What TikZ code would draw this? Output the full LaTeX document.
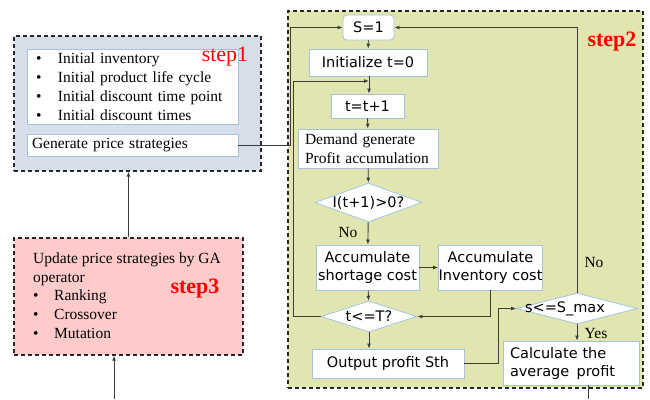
\documentclass[tikz,border=0pt]{standalone}
\usepackage{fontspec}
\setmainfont{Liberation Serif}
\newfontfamily\sansf{DejaVu Sans}
\usetikzlibrary{shapes.geometric,arrows.meta}

\definecolor{oneblue}{RGB}{214,223,233}
\definecolor{twogreen}{RGB}{225,230,176}
\definecolor{threepink}{RGB}{255,202,202}
\definecolor{boxedge}{RGB}{165,195,225}
\definecolor{steplabel}{RGB}{255,0,0}
\definecolor{linegray}{RGB}{60,60,60}

\begin{document}
\begin{tikzpicture}[x=1pt,y=-1pt,
stepframe/.style={draw=black!85, dashed, dash pattern=on 4pt off 3pt, line width=1.3pt, inner sep=0pt},
whitebox/.style={draw=boxedge, fill=white, line width=0.8pt, inner sep=0pt},
serifbox/.style={whitebox, font=\fontsize{15.5}{19}\selectfont},
sansbox/.style={whitebox, font=\sansf\fontsize{14.5}{18}\selectfont},
decision/.style={diamond, draw=boxedge, fill=white, line width=0.8pt, inner sep=0pt},
dlabel/.style={font=\sansf\fontsize{14.5}{18}\selectfont, inner sep=0pt},
arr/.style={draw=linegray, line width=0.9pt, -{Latex[length=5pt,width=4pt]}},
plain/.style={draw=linegray, line width=0.9pt},
stepname/.style={text=steplabel, font=\fontsize{22}{24}\selectfont},
]
\useasboundingbox (0,0) rectangle (650,399);

% frames
\node [stepframe, fill=oneblue, minimum width=247, minimum height=135] (step1) at (137.5,103.5) {};
\node [stepframe, fill=twogreen, minimum width=355, minimum height=377] (step2) at (465.5,199.5) {};
\node [stepframe, fill=threepink, minimum width=229, minimum height=117] (step3) at (128.5,296.5) {};

% step1
\node [serifbox, minimum width=211, minimum height=75, text width=193, inner xsep=9pt, align=left] (initial) at (132.5,86.5)
  {\makebox[22pt][l]{•}Initial inventory\\\makebox[22pt][l]{•}Initial product life cycle\\\makebox[22pt][l]{•}Initial discount time point\\\makebox[22pt][l]{•}Initial discount times};
\node [serifbox, minimum width=211, minimum height=22, text width=201, inner xsep=5pt, align=left] (gen) at (132.5,145) {Generate price strategies};
\node [stepname] (lab1) at (225,57) {step1};

% step3
\node [anchor=west, align=left, inner sep=0pt, font=\fontsize{15.5}{18.8}\selectfont] (ga) at (33,295.5)
  {Update price strategies by GA\\operator\\\makebox[21pt][l]{•}Ranking\\\makebox[21pt][l]{•}Crossover\\\makebox[21pt][l]{•}Mutation};
\node [stepname, font=\bfseries\fontsize{22}{24}\selectfont] (lab3) at (195,289) {step3};

% step2
\node [stepname, font=\bfseries\fontsize{22}{24}\selectfont] (lab2) at (612,42) {step2};
\node [sansbox, rounded corners=4pt, minimum width=51, minimum height=25] (s1) at (368.5,27.5) {S=1};
\node [sansbox, minimum width=118, minimum height=27] (init) at (368,62.5) {Initialize t=0};
\node [sansbox, minimum width=73, minimum height=24] (tinc) at (367.5,106) {t=t+1};
\node [serifbox, minimum width=140, minimum height=39, text width=126, inner xsep=7pt, align=left] (demand) at (368,148.5) {Demand generate\\Profit accumulation};
\node [decision, minimum width=107, minimum height=39, label={[dlabel]center:I(t+1)>0?}] (chk1) at (368.5,202.5) {};
\node [sansbox, minimum width=103, minimum height=45, align=center] (short) at (367.5,267.5) {Accumulate\\shortage cost};
\node [sansbox, minimum width=103, minimum height=45, align=center] (inv) at (490.5,267.5) {Accumulate\\Inventory cost};
\node [decision, minimum width=96, minimum height=31, label={[dlabel]center:t<=T?}] (chk2) at (369,316.5) {};
\node [sansbox, minimum width=152, minimum height=29] (output) at (388,363.5) {Output profit Sth};
\node [decision, minimum width=121, minimum height=31, label={[dlabel, xshift=-12pt]center:s<=S\_max}] (chk3) at (577,308.5) {};
\node [sansbox, minimum width=136, minimum height=44, text width=122, inner xsep=7pt, align=left] (calc) at (571,363) {Calculate the\\average\enspace profit};

\node [font=\fontsize{15.5}{18}\selectfont, inner sep=0pt] (no1) at (348,232) {No};
\node [font=\fontsize{15.5}{18}\selectfont, inner sep=0pt] (no2) at (594,262) {No};
\node [font=\fontsize{15.5}{18}\selectfont, inner sep=0pt] (yes) at (596,333) {Yes};

\coordinate (mrg) at (369,81);
\coordinate (exit2) at (588,399);
\coordinate (in3) at (114,399);

% connectors
\draw [arr] (gen.east) -- ++(52,0) |- (s1.west);
\draw [arr] (s1) -- (init);
\draw [arr] (init.south -| mrg) -- (tinc.north -| mrg);
\draw [arr] (tinc) -- (demand);
\draw [arr] (demand) -- (chk1);
\draw [arr] (chk1) -- (short);
\draw [arr] (short) -- (inv);
\draw [arr] (short) -- (chk2);
\draw [arr] (inv.south) |- (chk2.east);
\draw [arr] (chk2.west) -- ++(-27,0) |- (mrg);
\draw [arr] (chk2.south) -- (chk2.south |- output.north);
\draw [arr] (output.east) -- ++(34,0) |- (chk3.west);
\draw [arr] (chk3.north) |- (s1.east);
\draw [arr] (chk3.south) -- (chk3.south |- calc.north);
\draw [plain] (calc.south -| exit2) -- (exit2);
\draw [arr] (in3) -- (in3 |- step3.south);
\draw [arr] (step3.north) -- (step3.north |- step1.south);

\end{tikzpicture}
\end{document}
